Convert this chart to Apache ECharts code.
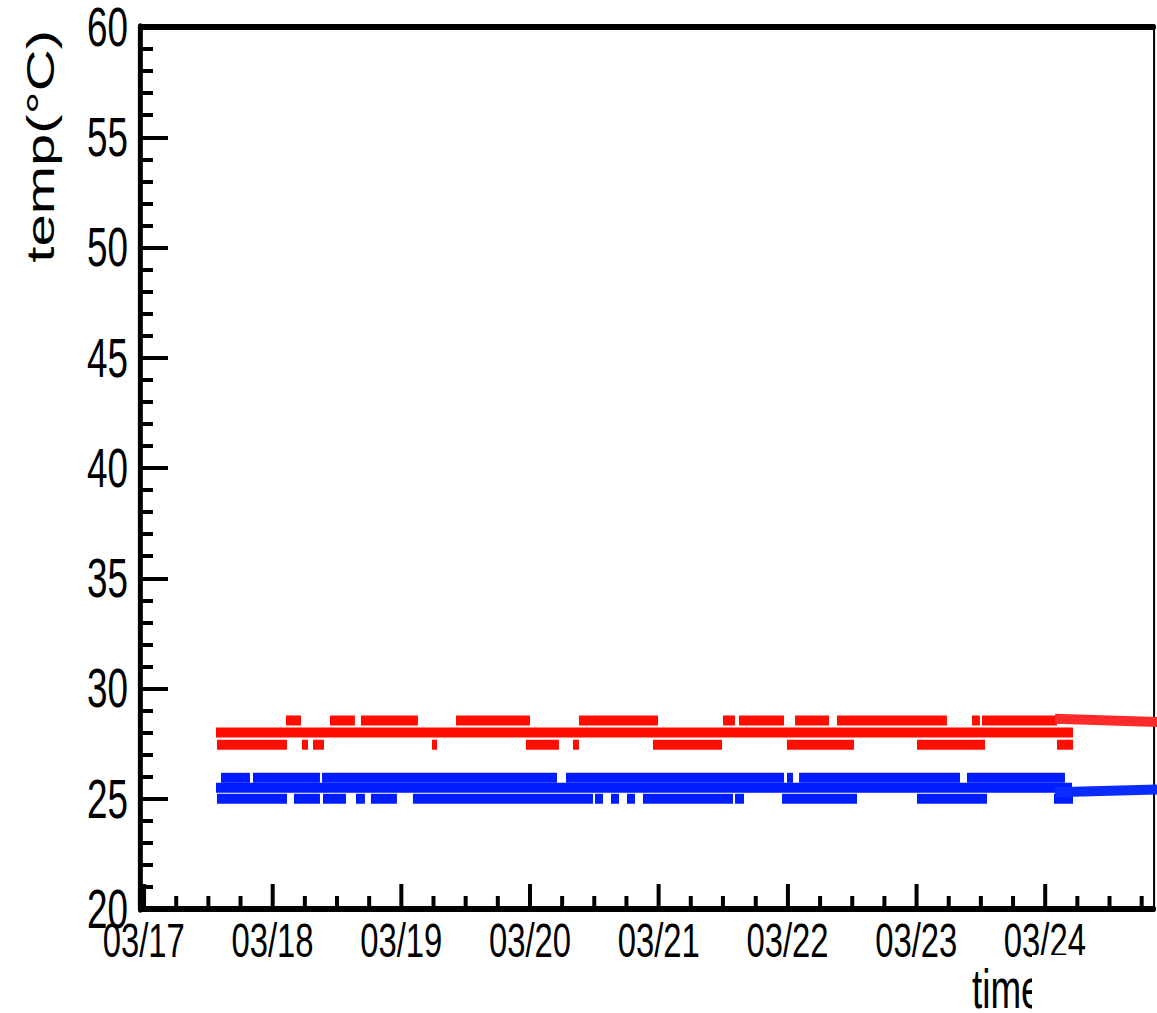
<!DOCTYPE html>
<html>
<head>
<meta charset="utf-8">
<script src="https://cdn.jsdelivr.net/npm/echarts@6/dist/echarts.min.js"></script>
<style>
  html, body { margin: 0; padding: 0; background: #fff; overflow: hidden; width: 1157px; height: 1013px; }
  /* the canvas is laid out wide and narrowed horizontally, giving the condensed lettering */
  #chart { width: 1727px; height: 1013px; transform: scaleX(0.67); transform-origin: 0 0; }
</style>
</head>
<body>
<div id="chart"></div>
<script>
// ---- data -------------------------------------------------------------
const YEAR = 2015;
const DAY_LABELS = ['03/17', '03/18', '03/19', '03/20', '03/21', '03/22', '03/23', '03/24'];
const X_RANGE = ['03/16 23:18', '03/24 20:20'];
const Y_RANGE = [20, 60];

// readout levels of the two sensors (°C): upper, middle, lower row
const RED_TEMPS = [28.55, 28.0, 27.45];
const BLUE_TEMPS = [25.95, 25.5, 25.0];

// time spans during which each readout level was reported
const RED_HIGH_RUNS = [
  ['03/18 02:31', '03/18 05:19'], ['03/18 10:43', '03/18 15:22'], ['03/18 16:29', '03/19 03:07'],
  ['03/19 10:13', '03/20 00:00'], ['03/20 09:08', '03/20 23:52'], ['03/21 11:59', '03/21 14:13'],
  ['03/21 14:58', '03/21 23:22'], ['03/22 01:25', '03/22 07:45'], ['03/22 09:14', '03/23 05:44'],
  ['03/23 10:24', '03/23 11:53'], ['03/23 12:16', '03/24 02:15']
];
const RED_MID_RUNS = [['03/17 13:28', '03/24 05:14']];
const RED_LOW_RUNS = [
  ['03/17 13:39', '03/18 02:42'], ['03/18 05:30', '03/18 06:37'], ['03/18 07:33', '03/18 09:36'],
  ['03/19 05:44', '03/19 06:40'], ['03/19 23:15', '03/20 05:24'], ['03/20 08:01', '03/20 09:08'],
  ['03/20 22:56', '03/21 11:48'], ['03/21 23:55', '03/22 12:25'], ['03/23 00:09', '03/23 12:50'],
  ['03/24 02:15', '03/24 05:14']
];
const BLUE_HIGH_RUNS = [
  ['03/17 14:24', '03/17 19:48'], ['03/17 20:22', '03/18 08:51'], ['03/18 09:14', '03/20 05:02'],
  ['03/20 06:43', '03/21 23:22'], ['03/21 23:55', '03/22 01:02'], ['03/22 02:10', '03/23 08:10'],
  ['03/23 09:28', '03/24 03:44']
];
const BLUE_MID_RUNS = [['03/17 13:28', '03/24 05:03']];
const BLUE_LOW_RUNS = [
  ['03/17 13:39', '03/18 02:42'], ['03/18 04:00', '03/18 08:51'], ['03/18 09:25', '03/18 13:42'],
  ['03/18 15:34', '03/18 17:14'], ['03/18 18:21', '03/18 23:12'], ['03/19 02:11', '03/20 11:45'],
  ['03/20 12:07', '03/20 13:37'], ['03/20 15:06', '03/20 16:36'], ['03/20 18:05', '03/20 19:35'],
  ['03/20 21:04', '03/21 13:51'], ['03/21 14:13', '03/21 15:54'], ['03/21 22:59', '03/22 12:58'],
  ['03/23 00:09', '03/23 13:12'], ['03/24 01:41', '03/24 05:14']
];

// connector lines leaving the plot on the right
const RED_TAIL = [['03/24 01:53', 28.63], ['03/24 21:40', 28.47]];
const BLUE_TAIL = [['03/24 01:53', 25.29], ['03/24 21:40', 25.43]];

// ---- helpers ----------------------------------------------------------
const SX = 0.67;                       // horizontal scale applied to #chart
const FONT = "'Liberation Sans', Arial, Helvetica, sans-serif";
const RED = '#ff0d00', BLUE = '#001cff';

function toMs(s) {
  const [md, hm] = s.split(' ');
  const [mo, d] = md.split('/').map(Number);
  const [h, mi] = hm.split(':').map(Number);
  return new Date(YEAR, mo - 1, d, h, mi).getTime();
}
function pad(n) { return (n < 10 ? '0' : '') + n; }
function mmdd(v) { const d = new Date(v); return pad(d.getMonth() + 1) + '/' + pad(d.getDate()); }

function runRows(rowRuns, temps) {
  const out = [];
  rowRuns.forEach((runs, i) => runs.forEach(r => out.push([toMs(r[0]), toMs(r[1]), temps[i]])));
  return out;
}

const xMin = toMs(X_RANGE[0]), xMax = toMs(X_RANGE[1]);
const dayTicks = DAY_LABELS.map(d => toMs(d + ' 00:00'));
const quarterTicks = [];
for (let i = -1; i <= DAY_LABELS.length; i++) {
  const base = toMs(DAY_LABELS[0] + ' 00:00') + i * 86400000;
  [6, 12, 18].forEach(h => {
    const t = base + h * 3600000;
    if (t > xMin && t < xMax) quarterTicks.push(t);
  });
}

const BAND_H = 10;
function bandSeries(name, data, color) {
  return {
    type: 'custom',
    name: name,
    data: data,
    encode: { x: [0, 1], y: 2 },
    renderItem: function (params, api) {
      const p0 = api.coord([api.value(0), api.value(2)]);
      const p1 = api.coord([api.value(1), api.value(2)]);
      return {
        type: 'rect',
        shape: { x: p0[0], y: p0[1] - BAND_H / 2, width: Math.max(1, p1[0] - p0[0]), height: BAND_H },
        style: { fill: color }
      };
    },
    z: 3
  };
}
function tailSeries(name, pts, color) {
  return {
    type: 'line',
    name: name,
    data: pts.map(p => [toMs(p[0]), p[1]]),
    showSymbol: false,
    clip: false,
    lineStyle: { color: color, width: 10, cap: 'butt' },
    z: 5,
    silent: true
  };
}

// ---- chart ------------------------------------------------------------
const chart = echarts.init(document.getElementById('chart'), null, { renderer: 'svg' });

const gridDef = { left: 140 / SX, right: 1727 - 1154 / SX, top: 27, bottom: 104, containLabel: false, outerBoundsMode: 'none' };

chart.setOption({
  backgroundColor: '#ffffff',
  animation: false,
  grid: gridDef,
  xAxis: [
    {
      type: 'value', min: xMin, max: xMax, position: 'bottom',
      axisLine: { show: true, onZero: false, lineStyle: { color: '#000', width: 6 } },
      axisTick: { show: true, inside: true, length: 25, lineStyle: { color: '#000', width: 4 / SX }, customValues: dayTicks },
      axisLabel: {
        show: true, customValues: dayTicks, formatter: v => mmdd(v),
        fontFamily: FONT, fontSize: 49, color: '#000', margin: 6
      },
      splitLine: { show: false }
    },
    {
      type: 'value', min: xMin, max: xMax, position: 'bottom',
      axisLine: { show: false, onZero: false },
      axisTick: { show: true, inside: true, length: 13, lineStyle: { color: '#000', width: 4 / SX }, customValues: quarterTicks },
      axisLabel: { show: false },
      splitLine: { show: false }
    },
    {
      type: 'value', min: xMin, max: xMax, position: 'top',
      axisLine: { show: true, onZero: false, lineStyle: { color: '#000', width: 6 } },
      axisTick: { show: false }, axisLabel: { show: false }, splitLine: { show: false }
    }
  ],
  yAxis: [
    {
      type: 'value', min: Y_RANGE[0], max: Y_RANGE[1], interval: 5, position: 'left',
      axisLine: { show: true, onZero: false, lineStyle: { color: '#000', width: 5 / SX } },
      axisTick: { show: true, inside: true, length: 28 / SX, lineStyle: { color: '#000', width: 4 } },
      minorTick: { show: true, splitNumber: 5, length: 13 / SX, lineStyle: { color: '#000', width: 4 } },
      axisLabel: { fontFamily: FONT, fontSize: 55, color: '#000', margin: 18 },
      splitLine: { show: false }, minorSplitLine: { show: false }
    },
    {
      type: 'value', min: Y_RANGE[0], max: Y_RANGE[1], position: 'right',
      axisLine: { show: true, onZero: false, lineStyle: { color: '#000', width: 2 / SX } },
      axisTick: { show: false }, axisLabel: { show: false }, splitLine: { show: false }
    }
  ],
  graphic: [
    {
      type: 'text', x: 40 / SX, y: 30, rotation: Math.PI / 2, z: 10,
      style: { text: 'temp(°C)', fontFamily: FONT, fontSize: 58, fill: '#000',
               align: 'right', verticalAlign: 'middle', textAlign: 'right', textVerticalAlign: 'middle' }
    },
    {
      type: 'text', x: 972 / SX, y: 989, z: 10,
      style: { text: 'time', fontFamily: FONT, fontSize: 55, fill: '#000',
               align: 'left', verticalAlign: 'middle', textAlign: 'left', textVerticalAlign: 'middle' }
    },
    {
      type: 'rect', x: 1032 / SX, y: 955, z: 11,
      shape: { width: 200, height: 60 }, style: { fill: '#ffffff' }
    }
  ],
  series: [
    bandSeries('sensor 2', runRows([BLUE_HIGH_RUNS, BLUE_MID_RUNS, BLUE_LOW_RUNS], BLUE_TEMPS), BLUE),
    bandSeries('sensor 1', runRows([RED_HIGH_RUNS, RED_MID_RUNS, RED_LOW_RUNS], RED_TEMPS), RED),
    tailSeries('sensor 1 link', RED_TAIL, '#ff2b2b'),
    tailSeries('sensor 2 link', BLUE_TAIL, '#0a2cff')
  ]
});
</script>
</body>
</html>
